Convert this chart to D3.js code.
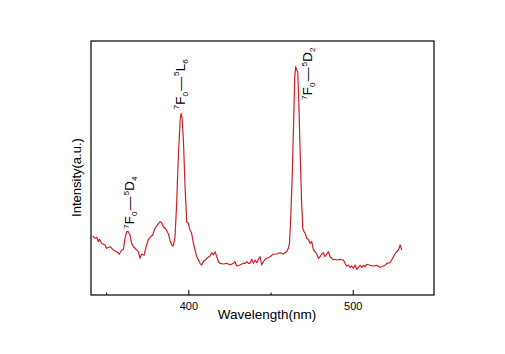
<!DOCTYPE html>
<html>
<head>
<meta charset="utf-8">
<script src="https://cdn.jsdelivr.net/npm/d3@7"></script>
<style>
  body { margin: 0; background: #fff; }
  text { font-family: "Liberation Sans", Arial, sans-serif; fill: #000; }
</style>
</head>
<body>
<div id="chart"></div>
<script>
// excitation spectrum (nm, arbitrary units)
const wavelength = [341.8, 343.2, 344.3, 345.3, 345.9, 347.3, 349.3, 350.3, 352.4, 354.4, 356.4, 358.0, 359.5, 360.5, 361.5, 362.5, 363.5, 364.5, 365.5, 366.6, 368.2, 369.6, 370.6, 371.6, 373.1, 374.3, 375.7, 377.1, 378.3, 379.7, 381.2, 382.8, 383.8, 384.8, 386.4, 387.9, 388.9, 389.9, 390.9, 391.9, 392.9, 393.9, 395.0, 395.6, 396.2, 397.0, 398.0, 399.0, 400.0, 401.0, 402.0, 403.1, 404.1, 405.1, 406.1, 407.1, 408.1, 409.1, 410.2, 411.2, 413.2, 414.2, 415.2, 416.2, 417.3, 418.3, 419.3, 421.3, 423.3, 425.4, 427.4, 428.4, 429.4, 431.4, 433.5, 434.5, 435.5, 436.5, 437.5, 438.5, 439.6, 440.6, 441.6, 442.6, 443.6, 444.6, 445.6, 446.7, 447.7, 449.7, 451.7, 453.7, 455.8, 457.8, 459.8, 460.8, 461.5, 462.3, 463.1, 463.9, 464.7, 465.3, 465.9, 466.5, 467.1, 467.9, 468.9, 469.6, 470.4, 471.2, 472.0, 473.0, 474.0, 475.0, 476.1, 477.1, 478.1, 479.1, 480.1, 481.1, 482.1, 483.1, 484.2, 485.2, 486.2, 487.2, 488.2, 489.2, 490.2, 492.3, 494.3, 495.3, 496.3, 497.3, 498.4, 499.4, 500.4, 501.4, 502.4, 503.4, 504.4, 505.5, 506.5, 507.5, 508.5, 510.5, 512.5, 514.6, 516.6, 518.6, 519.6, 520.7, 522.7, 523.7, 524.7, 525.7, 526.7, 527.8, 528.8, 529.8];
const intensity = [59.0, 56.7, 57.7, 53.3, 55.7, 51.7, 50.0, 46.7, 48.3, 45.0, 43.3, 41.0, 45.0, 45.7, 56.7, 63.3, 63.3, 60.0, 51.7, 48.3, 45.7, 43.3, 36.7, 41.0, 39.7, 48.3, 55.7, 58.3, 60.0, 66.7, 70.0, 73.3, 72.3, 68.3, 65.7, 61.0, 54.3, 50.0, 49.0, 58.3, 91.7, 138.3, 175.0, 181.7, 176.7, 155.0, 108.3, 73.3, 71.7, 65.0, 61.7, 51.7, 45.0, 38.3, 35.0, 31.7, 30.0, 33.3, 35.0, 36.7, 39.0, 42.3, 40.0, 43.3, 38.3, 33.3, 31.7, 31.0, 31.7, 30.0, 31.7, 33.3, 29.0, 30.0, 31.7, 31.7, 33.3, 31.7, 31.7, 35.7, 31.7, 35.0, 32.3, 35.7, 38.3, 30.0, 33.3, 35.7, 36.7, 38.3, 41.0, 41.0, 42.3, 41.0, 43.3, 46.7, 51.7, 78.3, 115.0, 165.0, 218.3, 228.3, 225.0, 223.3, 198.3, 148.3, 91.7, 66.7, 63.3, 61.0, 56.7, 55.7, 51.7, 53.3, 45.0, 43.3, 41.0, 36.7, 38.3, 41.0, 42.3, 38.3, 41.0, 43.3, 38.3, 36.7, 35.0, 35.7, 35.0, 35.7, 35.0, 31.7, 29.0, 30.0, 27.7, 29.0, 26.7, 30.0, 25.7, 27.7, 29.7, 27.7, 29.7, 28.3, 30.7, 29.7, 29.0, 29.7, 27.7, 29.0, 29.7, 31.7, 32.3, 35.0, 38.3, 41.0, 43.3, 45.0, 50.0, 45.0];

const majorTicks = [400, 500];
const minorTicks = [350, 450];

// transition labels: 7F0 - 5X_n, anchored at (wavelength, intensity)
const transitions = ["D", "L", "D"];
const transitionSub = ["4", "6", "2"];
const labelAt = [[367.0, 66], [397.7, 185.5], [475.5, 195]];

const c = { width: 505, height: 354, left: 91, top: 41, right: 434, bottom: 295 };

const svg = d3.select("#chart")
  .append("svg")
  .attr("width", c.width)
  .attr("height", c.height);

const x = d3.scaleLinear().domain([340.8, 549.4]).range([c.left, c.right]);
const y = d3.scaleLinear().domain([0, 254]).range([c.bottom, c.top]);

const points = wavelength.map((w, i) => [w, intensity[i]]);

svg.append("path")
  .datum(points)
  .attr("fill", "none")
  .attr("stroke", "#d11f24")
  .attr("stroke-width", 1.2)
  .attr("stroke-linejoin", "round")
  .attr("d", d3.line().x(d => x(d[0])).y(d => y(d[1])));

// frame
svg.append("rect")
  .attr("x", c.left)
  .attr("y", c.top)
  .attr("width", c.right - c.left)
  .attr("height", c.bottom - c.top)
  .attr("fill", "none")
  .attr("stroke", "#000")
  .attr("stroke-width", 1.2);

// inward ticks on the bottom axis
const xAxis = d3.axisBottom(x).tickValues(majorTicks).tickSize(-5).tickPadding(7).tickFormat(d3.format("d"));
const gx = svg.append("g")
  .attr("transform", `translate(0,${c.bottom})`)
  .call(xAxis);
gx.select(".domain").remove();
gx.selectAll("text").attr("font-size", 11).style("font-family", "'Liberation Sans', Arial, sans-serif");
gx.selectAll("line").attr("stroke-width", 1);

const gm = svg.append("g")
  .attr("transform", `translate(0,${c.bottom})`)
  .call(d3.axisBottom(x).tickValues(minorTicks).tickSize(-2.5).tickFormat(""));
gm.select(".domain").remove();

svg.append("text")
  .attr("x", 267)
  .attr("y", 318.5)
  .attr("text-anchor", "middle")
  .attr("font-size", 13.5)
  .text("Wavelength(nm)");

svg.append("text")
  .attr("transform", "translate(80.5,177.5) rotate(-90)")
  .attr("text-anchor", "middle")
  .attr("font-size", 13)
  .text("Intensity(a.u.)");

// rotated transition labels
transitions.forEach((t, i) => {
  const g = svg.append("g")
    .attr("transform", `translate(${x(labelAt[i][0])},${y(labelAt[i][1])}) rotate(-90) scale(1.1,1)`);
  const txt = g.append("text").attr("font-size", 12.5);
  txt.append("tspan").attr("font-size", 7.5).attr("dy", -5.5).text("7");
  txt.append("tspan").attr("dy", 5.5).text("F");
  txt.append("tspan").attr("font-size", 7.5).attr("dy", 3).text("0");
  txt.append("tspan").attr("dy", -3).attr("dx", 1).text("\u2014");
  txt.append("tspan").attr("font-size", 7.5).attr("dy", -5.5).attr("dx", 1).text("5");
  txt.append("tspan").attr("dy", 5.5).text(t);
  txt.append("tspan").attr("font-size", 7.5).attr("dy", 3).text(transitionSub[i]);
});
</script>
</body>
</html>
